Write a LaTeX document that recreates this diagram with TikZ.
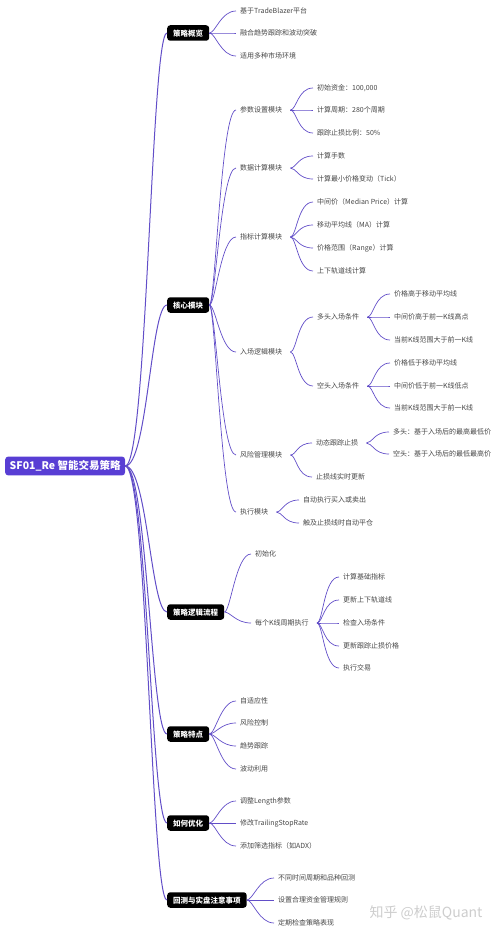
\documentclass[tikz,border=0pt]{standalone}
\usepackage{fontspec}
\setmainfont{Noto Sans CJK SC}
\usepackage{tikz}
\definecolor{lnk}{RGB}{98,78,200}
\definecolor{rootc}{RGB}{88,62,212}
\definecolor{txt}{RGB}{70,70,70}
\definecolor{wm}{RGB}{205,205,205}
\begin{document}
\begin{tikzpicture}[x=1pt,y=-1pt,
  rootbox/.style={fill=rootc,text=white,rounded corners=3pt,anchor=west,
    font=\fontsize{10.5}{12}\selectfont\bfseries,inner xsep=4.5pt,inner ysep=4pt},
  mainbox/.style={fill=black,text=white,rounded corners=3pt,anchor=west,
    font=\fontsize{7.5}{9}\selectfont\bfseries,inner xsep=6pt,inner ysep=3pt,
    text height=0.8em,text depth=0.15em},
  leaf/.style={text=txt,anchor=west,font=\fontsize{7}{8}\selectfont,
    inner xsep=4pt,inner ysep=1pt},
  trunk/.style={draw=lnk,line width=1pt,
    to path={.. controls +(22,0) and +(-16,0) .. (\tikztotarget)}},
  twig/.style={draw=lnk,line width=0.7pt,
    to path={.. controls +(6,0) and +(-15,0) .. (\tikztotarget)}},
  twigs/.style={draw=lnk,line width=0.7pt,
    to path={([xshift=4pt]\tikztostart) .. controls +(6,0) and +(-15,0) .. (\tikztotarget)}}]
\useasboundingbox (0,0) rectangle (500,934);

\node[rootbox] (r) at (5,466) {SF01\_Re 智能交易策略};

\node[mainbox] (r1) at (167,33) {策略概览};
\node[mainbox] (r2) at (167,305) {核心模块};
\node[mainbox] (r3) at (167,612) {策略逻辑流程};
\node[mainbox] (r4) at (167,734) {策略特点};
\node[mainbox] (r5) at (167,823) {如何优化};
\node[mainbox] (r6) at (167,900) {回测与实盘注意事项};

\node[leaf] (r11) at (236,11) {基于TradeBlazer平台};
\node[leaf] (r12) at (236,33) {融合趋势跟踪和波动突破};
\node[leaf] (r13) at (236,56) {适用多种市场环境};

\node[leaf] (r21) at (236,110) {参数设置模块};
\node[leaf] (r211) at (313,88) {初始资金：100,000};
\node[leaf] (r212) at (313,110) {计算周期：280个周期};
\node[leaf] (r213) at (313,133) {跟踪止损比例：50\%};
\node[leaf] (r22) at (236,168) {数据计算模块};
\node[leaf] (r221) at (313,156) {计算手数};
\node[leaf] (r222) at (313,179) {计算最小价格变动（Tick）};
\node[leaf] (r23) at (236,237) {指标计算模块};
\node[leaf] (r231) at (313,202) {中间价（Median Price）计算};
\node[leaf] (r232) at (313,225) {移动平均线（MA）计算};
\node[leaf] (r233) at (313,248) {价格范围（Range）计算};
\node[leaf] (r234) at (313,271) {上下轨道线计算};
\node[leaf] (r24) at (236,352) {入场逻辑模块};
\node[leaf] (r241) at (313,317) {多头入场条件};
\node[leaf] (r2411) at (390,294) {价格高于移动平均线};
\node[leaf] (r2412) at (390,317) {中间价高于前一K线高点};
\node[leaf] (r2413) at (390,340) {当前K线范围大于前一K线};
\node[leaf] (r242) at (313,386) {空头入场条件};
\node[leaf] (r2421) at (390,363) {价格低于移动平均线};
\node[leaf] (r2422) at (390,386) {中间价低于前一K线低点};
\node[leaf] (r2423) at (390,408) {当前K线范围大于前一K线};
\node[leaf] (r25) at (236,455) {风险管理模块};
\node[leaf] (r251) at (312,443) {动态跟踪止损};
\node[leaf] (r2511) at (389,432) {多头：基于入场后的最高最低价};
\node[leaf] (r2512) at (389,454) {空头：基于入场后的最低最高价};
\node[leaf] (r252) at (312,477) {止损线实时更新};
\node[leaf] (r26) at (236,512) {执行模块};
\node[leaf] (r261) at (299,500) {自动执行买入或卖出};
\node[leaf] (r262) at (299,523) {触及止损线时自动平仓};

\node[leaf] (r31) at (251,554) {初始化};
\node[leaf] (r32) at (251,623) {每个K线周期执行};
\node[leaf] (r321) at (339,577) {计算基础指标};
\node[leaf] (r322) at (339,600) {更新上下轨道线};
\node[leaf] (r323) at (339,623) {检查入场条件};
\node[leaf] (r324) at (339,646) {更新跟踪止损价格};
\node[leaf] (r325) at (339,668) {执行交易};

\node[leaf] (r41) at (236,701) {自适应性};
\node[leaf] (r42) at (236,723) {风险控制};
\node[leaf] (r43) at (236,746) {趋势跟踪};
\node[leaf] (r44) at (236,769) {波动利用};

\node[leaf] (r51) at (236,801) {调整Length参数};
\node[leaf] (r52) at (236,823) {修改TrailingStopRate};
\node[leaf] (r53) at (236,846) {添加筛选指标（如ADX）};

\node[leaf] (r61) at (274,878) {不同时间周期和品种回测};
\node[leaf] (r62) at (274,900) {设置合理资金管理规则};
\node[leaf] (r63) at (274,923) {定期检查策略表现};

\node[text=wm,anchor=west,font=\fontsize{14}{16}\selectfont] (zh) at (366,913) {知乎 @松鼠Quant};

\path[trunk] (r.east) edge (r1.west)
             (r.east) edge (r2.west)
             (r.east) edge (r3.west)
             (r.east) edge (r4.west)
             (r.east) edge (r5.west)
             (r.east) edge (r6.west);

\path[twig] (r1.east) edge (r11.west)
            (r1.east) edge (r12.west)
            (r1.east) edge (r13.west)
            (r2.east) edge (r21.west)
            (r2.east) edge (r22.west)
            (r2.east) edge (r23.west)
            (r2.east) edge (r24.west)
            (r2.east) edge (r25.west)
            (r2.east) edge (r26.west)
            (r3.east) edge (r31.west)
            (r3.east) edge (r32.west)
            (r4.east) edge (r41.west)
            (r4.east) edge (r42.west)
            (r4.east) edge (r43.west)
            (r4.east) edge (r44.west)
            (r5.east) edge (r51.west)
            (r5.east) edge (r52.west)
            (r5.east) edge (r53.west)
            (r6.east) edge (r61.west)
            (r6.east) edge (r62.west)
            (r6.east) edge (r63.west);

\path[twigs] (r21.east) edge (r211.west)
             (r21.east) edge (r212.west)
             (r21.east) edge (r213.west)
             (r22.east) edge (r221.west)
             (r22.east) edge (r222.west)
             (r23.east) edge (r231.west)
             (r23.east) edge (r232.west)
             (r23.east) edge (r233.west)
             (r23.east) edge (r234.west)
             (r24.east) edge (r241.west)
             (r24.east) edge (r242.west)
             (r241.east) edge (r2411.west)
             (r241.east) edge (r2412.west)
             (r241.east) edge (r2413.west)
             (r242.east) edge (r2421.west)
             (r242.east) edge (r2422.west)
             (r242.east) edge (r2423.west)
             (r25.east) edge (r251.west)
             (r25.east) edge (r252.west)
             (r251.east) edge (r2511.west)
             (r251.east) edge (r2512.west)
             (r26.east) edge (r261.west)
             (r26.east) edge (r262.west)
             (r32.east) edge (r321.west)
             (r32.east) edge (r322.west)
             (r32.east) edge (r323.west)
             (r32.east) edge (r324.west)
             (r32.east) edge (r325.west);
\end{tikzpicture}
\end{document}
